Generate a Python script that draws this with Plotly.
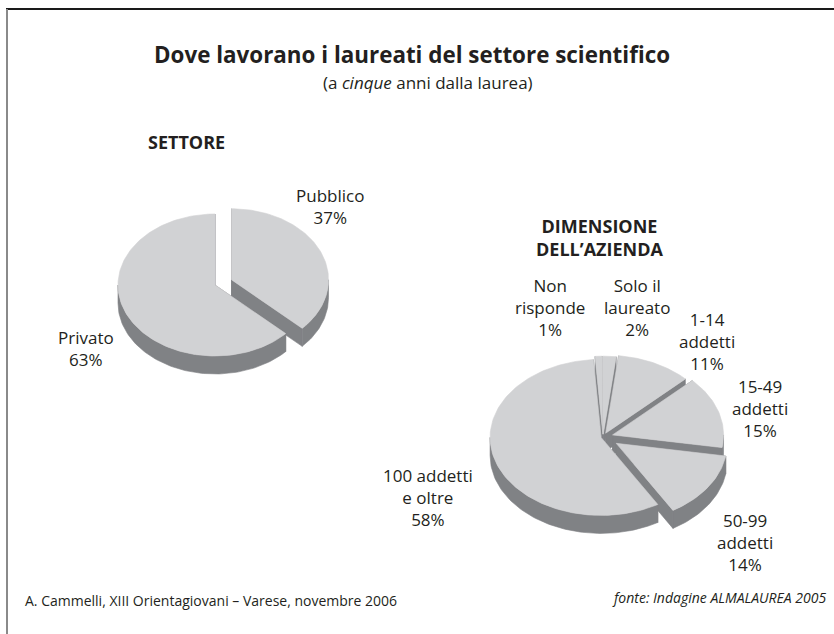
import numpy as np
import plotly.graph_objects as go

# ---- data ----
sector_labels = ["Pubblico", "Privato"]
sector_values = [37, 63]

size_labels = ["Non<br>risponde", "Solo il<br>laureato", "1-14<br>addetti",
               "15-49<br>addetti", "50-99<br>addetti", "100 addetti<br>e oltre"]
size_values = [1, 2, 11, 15, 14, 58]

TOP = "#d1d2d4"
SIDE = "#808285"
FONT = "Open Sans"

W, H = 834, 634


def arc(cx, cy, rx, ry, a0, a1):
    n = max(int(abs(a1 - a0) / 1.5) + 2, 3)
    th = np.radians(np.linspace(a0, a1, n))
    return cx + rx * np.sin(th), cy - ry * np.cos(th)


def front_ranges(a0, a1):
    out = []
    for k in (-360, 0, 360):
        lo, hi = max(a0, 90 + k), min(a1, 270 + k)
        if hi > lo:
            out.append((lo, hi))
    return out


def pie3d(values, cx, cy, rx, ry, depth, start, explode):
    total = float(sum(values))
    walls, tops = [], []
    acc = start
    for v, e in zip(values, explode):
        a0 = acc
        a1 = acc + 360.0 * v / total
        acc = a1
        am = np.radians((a0 + a1) / 2)
        ox = cx + e * np.sin(am)
        oy = cy - e * np.cos(am) * ry / rx
        ax, ay = arc(ox, oy, rx, ry, a0, a1)
        tops.append((np.r_[ox, ax, ox], np.r_[oy, ay, oy]))
        # radial side faces
        for (ex, ey) in ((ax[0], ay[0]), (ax[-1], ay[-1])):
            walls.append((np.array([ox, ex, ex, ox, ox]),
                          np.array([oy, ey, ey + depth, oy + depth, oy])))
        # outer (front) face
        for lo, hi in front_ranges(a0, a1):
            bx, by = arc(ox, oy, rx, ry, lo, hi)
            walls.append((np.r_[bx, bx[::-1], bx[0]],
                          np.r_[by, by[::-1] + depth, by[0]]))
    return walls, tops


fig = go.Figure()

all_walls, all_tops = [], []
w, t = pie3d(sector_values, 215, 285, 97, 71, 18, 0, [18, 0])
all_walls += w
all_tops += t
w, t = pie3d(size_values, 603, 437, 111, 78, 18, -4, [4, 4, 6, 10, 16, 2])
all_walls += w
all_tops += t

for px, py in all_walls:
    fig.add_trace(go.Scatter(x=px, y=py, mode="lines", fill="toself",
                             fillcolor=SIDE, line=dict(width=0.6, color=SIDE),
                             hoverinfo="skip", showlegend=False))
for px, py in all_tops:
    fig.add_trace(go.Scatter(x=px, y=py, mode="lines", fill="toself",
                             fillcolor=TOP, line=dict(width=0.6, color=TOP),
                             hoverinfo="skip", showlegend=False))

ann = []


def txt(x, y, s, size=16, bold=False, italic=False, anchor="center", color="#231f20"):
    if bold:
        s = "<b>" + s + "</b>"
    if italic:
        s = "<i>" + s + "</i>"
    ann.append(dict(x=x, y=y, xref="x", yref="y", text=s, showarrow=False,
                    xanchor=anchor, yanchor="middle",
                    align=anchor if anchor != "center" else "center",
                    font=dict(family=FONT, size=size, color=color)))


txt(412, 54, "Dove lavorano i laureati del settore scientifico", size=22.4, bold=True)
txt(428, 82, "(a <i>cinque</i> anni dalla laurea)", size=17)
txt(186, 142, "SETTORE", size=18, bold=True)
txt(599, 237, "DIMENSIONE<br>DELL’AZIENDA", size=18, bold=True)

LS = 17
# left pie labels
txt(330, 206, sector_labels[0] + "<br>" + f"{sector_values[0]}%", size=LS)
txt(86, 348, sector_labels[1] + "<br>" + f"{sector_values[1]}%", size=LS)

# right pie labels
pos = [(550, 307), (637, 307), (707, 341), (760, 408), (745, 542), (428, 497)]
for (x, y), lab, v in zip(pos, size_labels, size_values):
    txt(x, y, lab + "<br>" + f"{v}%", size=LS)

txt(23, 600, "A. Cammelli, XIII Orientagiovani – Varese, novembre 2006", size=14, anchor="left")
txt(828, 597, "fonte: Indagine ALMALAUREA 2005", size=14, italic=True, anchor="right")

fig.update_layout(
    width=W, height=H,
    margin=dict(l=0, r=0, t=0, b=0),
    paper_bgcolor="white", plot_bgcolor="white",
    xaxis=dict(range=[0, W], visible=False, fixedrange=True),
    yaxis=dict(range=[H, 0], visible=False, fixedrange=True),
    annotations=ann,
    shapes=[
        dict(type="line", xref="x", yref="y", x0=6, x1=W, y0=9, y1=9,
             line=dict(color="#1a1a1a", width=2)),
        dict(type="line", xref="x", yref="y", x0=7, x1=7, y0=9, y1=H,
             line=dict(color="#8a8a8a", width=2)),
    ],
)

fig.write_html("out.html")
